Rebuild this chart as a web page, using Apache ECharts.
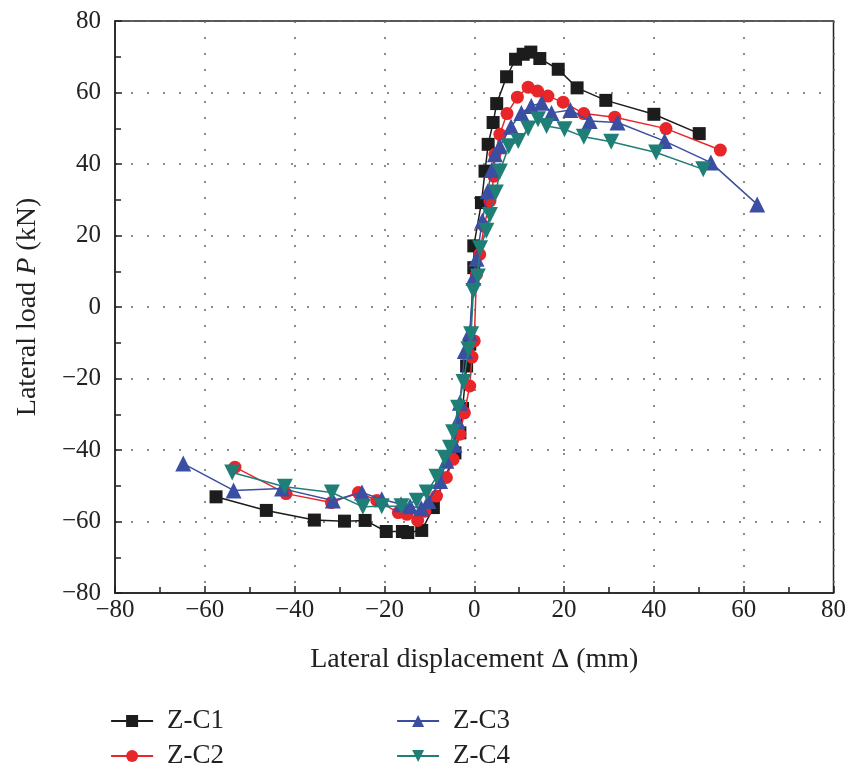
<!DOCTYPE html>
<html>
<head>
<meta charset="utf-8">
<script src="https://cdn.jsdelivr.net/npm/echarts@6/dist/echarts.min.js"></script>
<style>html,body{margin:0;padding:0;background:#fff}#c{width:849px;height:772px}</style>
</head>
<body>
<div id="c"></div>
<script>
var seriesNames = ['Z-C1', 'Z-C2', 'Z-C3', 'Z-C4'];
var xTicks = [-80, -60, -40, -20, 0, 20, 40, 60, 80];
var yTicks = [-80, -60, -40, -20, 0, 20, 40, 60, 80];

var zc1 = [[-57.5,-53.1],[-46.3,-56.9],[-35.6,-59.6],[-28.9,-59.9],[-24.3,-59.7],[-19.6,-62.8],[-16.0,-62.8],[-14.8,-63.1],[-11.7,-62.5],[-9.1,-56.1],[-4.3,-40.8],[-3.2,-35.2],[-2.6,-28.4],[-1.7,-16.5],[-1.0,-10.4],[-0.1,11.0],[-0.1,17.1],[1.6,29.2],[2.4,38.0],[3.1,45.5],[4.2,51.6],[5.0,56.9],[7.2,64.4],[9.2,69.3],[10.9,70.7],[12.6,71.3],[14.6,69.5],[18.7,66.5],[22.9,61.3],[29.3,57.8],[40.0,53.9],[50.1,48.5]];
var zc2 = [[-53.3,-44.8],[-41.9,-52.2],[-31.8,-54.7],[-25.8,-51.9],[-21.7,-54.1],[-16.9,-57.5],[-15.0,-58.0],[-12.6,-59.7],[-11.0,-57.1],[-8.4,-52.9],[-6.2,-47.7],[-4.7,-42.6],[-3.2,-35.6],[-2.2,-29.6],[-1.0,-22.1],[-0.5,-14.0],[0.0,-9.5],[0.5,9.1],[1.2,14.7],[2.2,22.6],[3.5,29.7],[4.4,36.6],[4.6,42.7],[5.7,48.3],[7.3,54.1],[9.6,58.7],[12.0,61.5],[14.1,60.4],[16.4,59.0],[19.8,57.3],[24.4,54.1],[31.3,53.1],[42.7,49.9],[54.8,43.9]];
var zc3 = [[-64.8,-43.8],[-53.6,-51.3],[-42.8,-50.8],[-31.5,-54.1],[-25.0,-51.9],[-20.6,-53.8],[-16.3,-55.2],[-14.3,-55.7],[-11.8,-56.3],[-10.2,-54.3],[-7.6,-48.7],[-6.2,-43.0],[-4.4,-38.5],[-3.7,-31.9],[-3.2,-26.8],[-2.1,-12.3],[-1.0,-7.2],[-0.2,8.2],[0.5,13.5],[1.8,24.1],[3.0,32.4],[3.9,38.3],[4.6,42.7],[5.7,45.0],[8.2,50.4],[10.5,54.3],[12.7,56.2],[15.0,57.1],[17.2,54.3],[21.4,55.1],[25.7,52.0],[31.9,51.6],[42.4,46.4],[52.7,40.4],[63.0,28.7]];
var zc4 = [[-53.9,-46.3],[-42.2,-50.3],[-31.7,-51.9],[-24.8,-55.9],[-20.6,-55.7],[-16.2,-55.7],[-12.8,-54.2],[-10.6,-51.9],[-8.4,-47.5],[-6.6,-42.2],[-5.4,-39.4],[-4.7,-35.0],[-3.6,-28.2],[-2.4,-21.0],[-1.3,-11.8],[-0.7,-7.6],[-0.2,4.5],[0.8,8.5],[1.3,16.4],[2.7,21.3],[3.5,25.7],[4.8,32.0],[5.7,37.9],[7.7,45.0],[9.8,46.4],[12.0,49.9],[14.2,52.5],[16.1,50.6],[20.1,49.7],[24.4,47.6],[30.5,46.2],[40.5,43.2],[51.0,38.5]];

var FONT = 'Liberation Serif';
var colors = ['#1c1c1c', '#e8262a', '#3a4ea2', '#1f7f77'];
var symbols = ['rect', 'circle', 'triangle', 'path://M0,0 L10,0 L5,8.66 Z'];
var sizes = [13, 13, 16, 16];
var datas = [zc1, zc2, zc3, zc4];
var legendPos = [[110, 707], [110, 742], [396, 707], [396, 742]];

function fmt(v) { return String(v).replace('-', '\u2212'); }

var series = seriesNames.map(function (n, i) {
  return {
    name: n, type: 'line', data: datas[i],
    symbol: symbols[i], symbolSize: sizes[i],
    showAllSymbol: true,
    lineStyle: { color: colors[i], width: 1.5 },
    itemStyle: { color: colors[i] },
    z: 10 + i
  };
});

var legends = seriesNames.map(function (n, i) {
  return {
    data: [n], left: legendPos[i][0], top: legendPos[i][1], padding: 0,
    itemWidth: 42, itemHeight: 15,
    lineStyle: { width: 2.2 },
    textStyle: { fontFamily: FONT, fontSize: 27, color: '#222', padding: [0, 0, 0, 9], lineHeight: 28 }
  };
});

var axisCommon = {
  min: -80, max: 80, interval: 20,
  axisLine: { show: true, onZero: false, lineStyle: { color: '#222', width: 1.5 } },
  axisTick: { show: true, inside: true, length: 7, lineStyle: { color: '#222', width: 1.5 } },
  minorTick: { show: true, splitNumber: 2, length: 6, lineStyle: { color: '#222', width: 1.5 } },
  splitLine: { show: true, lineStyle: { color: '#666', width: 1.5, type: [2, 14] } }
};

var option = {
  backgroundColor: '#fff',
  animation: false,
  textStyle: { fontFamily: FONT },
  grid: { left: 115, right: 13, top: 21, bottom: 179, show: true, borderColor: '#222', borderWidth: 1.5, backgroundColor: 'transparent' },
  legend: legends,
  xAxis: Object.assign({}, axisCommon, {
    type: 'value',
    name: 'Lateral displacement \u0394 (mm)',
    nameLocation: 'middle', nameGap: 53,
    nameTextStyle: { fontFamily: FONT, fontSize: 28, color: '#222' },
    axisLabel: { fontFamily: FONT, fontSize: 25, color: '#222', margin: 5,
      formatter: function (v) { return xTicks.indexOf(v) >= 0 ? fmt(v) : ''; } }
  }),
  yAxis: Object.assign({}, axisCommon, {
    type: 'value',
    name: '{a|Lateral load }{i|P}{a| (kN)}',
    nameLocation: 'middle', nameGap: 73, nameRotate: 90,
    nameTextStyle: { fontFamily: FONT, fontSize: 28, color: '#222',
      rich: { a: { fontFamily: FONT, fontSize: 28, color: '#222' }, i: { fontFamily: FONT, fontSize: 28, fontStyle: 'italic', color: '#222' } } },
    axisLabel: { fontFamily: FONT, fontSize: 25, color: '#222', margin: 14,
      formatter: function (v) { return yTicks.indexOf(v) >= 0 ? fmt(v) : ''; } }
  }),
  series: series
};

var chart = echarts.init(document.getElementById('c'), null, { renderer: 'canvas' });
chart.setOption(option);
</script>
</body>
</html>
